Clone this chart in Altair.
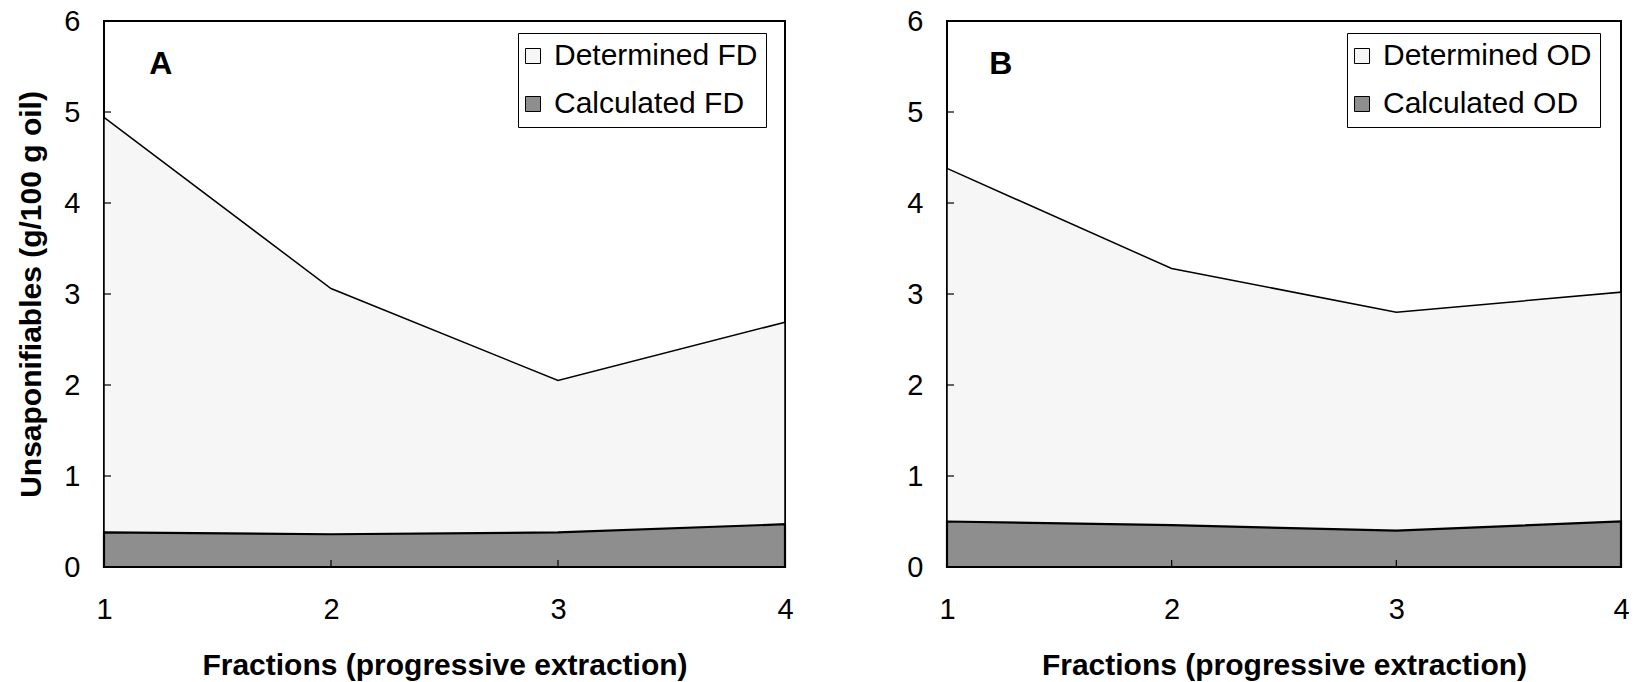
import altair as alt
import pandas as pd

# Fraction numbers along the progressive extraction
fractions = [1, 2, 3, 4]

# Unsaponifiables (g/100 g oil), panel A (FD) and panel B (OD)
determined_fd = [4.94, 3.06, 2.05, 2.69]
calculated_fd = [0.38, 0.36, 0.38, 0.47]
determined_od = [4.38, 3.28, 2.80, 3.02]
calculated_od = [0.50, 0.46, 0.40, 0.50]

y_ticks = [0, 1, 2, 3, 4, 5, 6]
x_ticks = [1, 2, 3, 4]

FONT = "Liberation Sans"
HEIGHT = 546
DETERMINED_FILL = "#f6f6f6"
CALCULATED_FILL = "#8e8e8e"


def panel(letter, det, calc, suffix, width, legend_x, letter_x, show_title):
    det_name = f"Determined {suffix}"
    calc_name = f"Calculated {suffix}"
    df = pd.DataFrame({
        "Fraction": fractions * 2,
        "Value": det + calc,
        "Series": [det_name] * len(det) + [calc_name] * len(calc),
    })

    x_enc = alt.X(
        "Fraction:Q",
        scale=alt.Scale(domain=[1, 4], nice=False, zero=False),
        axis=alt.Axis(values=x_ticks, format="d", labelFlush=False,
                      labelPadding=28, titlePadding=26),
        title="Fractions (progressive extraction)",
    )
    y_enc = alt.Y(
        "Value:Q",
        stack=None,
        scale=alt.Scale(domain=[0, 6], nice=False),
        axis=alt.Axis(values=y_ticks, format="d", labelFlush=False,
                      labelPadding=24, titlePadding=17),
        title="Unsaponifiables (g/100 g oil)" if show_title else None,
    )
    fill_enc = alt.Fill(
        "Series:N",
        scale=alt.Scale(domain=[det_name, calc_name],
                        range=[DETERMINED_FILL, CALCULATED_FILL]),
        legend=alt.Legend(
            orient="none", legendX=legend_x, legendY=12, title=None,
            strokeColor="black", fillColor="white", padding=8,
            rowPadding=18, labelFontSize=30, labelFont=FONT,
            labelColor="black", symbolType="square", symbolSize=225,
            symbolStrokeColor="black", symbolStrokeWidth=1,
            symbolOffset=-8, labelOffset=6, labelLimit=0,
        ),
    )

    base = alt.Chart(df)
    det_area = base.transform_filter(
        alt.datum.Series == det_name
    ).mark_area(stroke="black", strokeWidth=1.5, opacity=1).encode(
        x=x_enc, y=y_enc, fill=fill_enc
    )
    calc_area = base.transform_filter(
        alt.datum.Series == calc_name
    ).mark_area(stroke="black", strokeWidth=2.2, opacity=1).encode(
        x=x_enc, y=y_enc, fill=fill_enc
    )

    # inward tick marks on the left and bottom edges
    y_tick_marks = alt.Chart(pd.DataFrame({"Value": y_ticks})).mark_rule(
        color="black", strokeWidth=1.2
    ).encode(y="Value:Q", x=alt.value(0), x2=alt.value(7))
    x_tick_marks = alt.Chart(pd.DataFrame({"Fraction": x_ticks})).mark_rule(
        color="black", strokeWidth=1.2
    ).encode(x="Fraction:Q", y=alt.value(HEIGHT), y2=alt.value(HEIGHT - 7))

    panel_label = alt.Chart(pd.DataFrame({"label": [letter]})).mark_text(
        font=FONT, fontSize=32, fontWeight="bold", color="black"
    ).encode(text="label:N", x=alt.datum(letter_x), y=alt.datum(5.53))

    return alt.layer(
        det_area, calc_area, y_tick_marks, x_tick_marks, panel_label
    ).properties(width=width, height=HEIGHT)


panel_a = panel("A", determined_fd, calculated_fd, "FD", 681, 414, 1.25, True)
panel_b = panel("B", determined_od, calculated_od, "OD", 674, 400, 1.24, False)

chart = alt.hconcat(panel_a, panel_b, spacing=110).resolve_scale(
    fill="independent"
).resolve_legend(fill="independent").properties(
    padding={"left": 15, "top": 6, "right": 4, "bottom": 4},
    background="white",
).configure_view(
    stroke="black", strokeWidth=2
).configure_axis(
    domain=False, ticks=False, grid=False,
    labelFont=FONT, labelFontSize=29, labelColor="black",
    titleFont=FONT, titleFontSize=30, titleFontWeight="bold", titleColor="black",
)

chart.save("out.html", embed_options={"renderer": "svg", "actions": False})
